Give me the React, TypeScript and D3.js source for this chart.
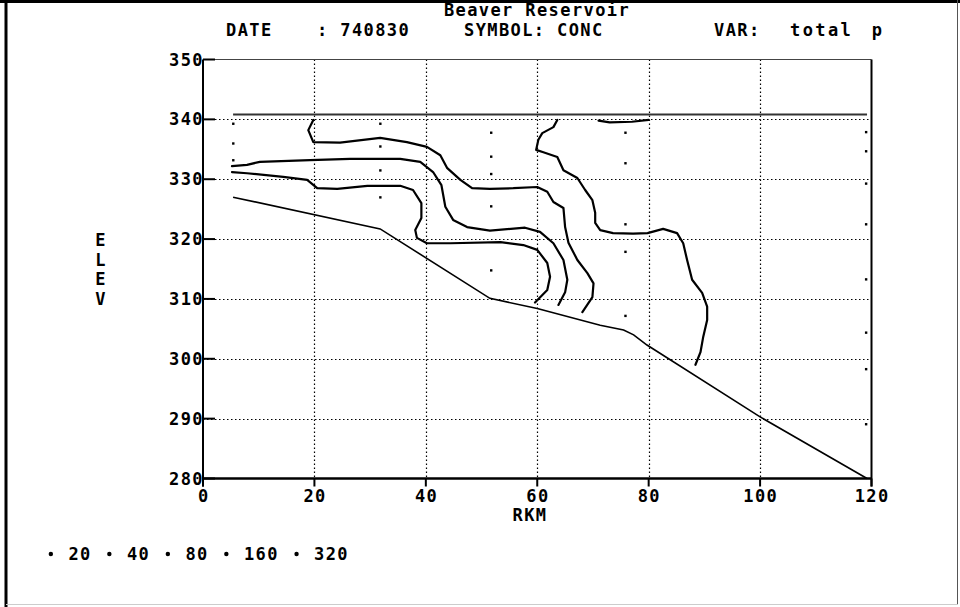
import { useEffect, useRef } from "react";
import * as d3 from "d3";

type Pt = [number, number]; // [rkm, elev]

const xTicks = [0, 20, 40, 60, 80, 100, 120];
const yTicks = [280, 290, 300, 310, 320, 330, 340, 350];
const legendValues = [20, 40, 80, 160, 320];

const waterSurface: Pt[] = [
  [5.4, 340.8],
  [119.2, 340.8],
];

const bedProfile: Pt[] = [
  [5.4, 327.0],
  [31.8, 321.7],
  [51.5, 310.1],
  [60.0, 308.4],
  [71.3, 305.6],
  [75.5, 304.8],
  [77.3, 304.0],
  [79.7, 302.3],
  [100.0, 290.3],
  [119.2, 280.0],
];

// sample station locations (rkm) and their sample elevations
const stationRkm = [5.4, 31.8, 51.7, 75.8, 119.0];
const stationElevs = [
  [339.3, 336.0, 333.2],
  [339.3, 335.5, 331.5, 327.0],
  [337.8, 333.8, 330.9, 325.5, 314.8],
  [337.8, 332.7, 322.5, 317.9, 307.2],
  [337.9, 334.7, 329.3, 322.5, 313.3, 304.4, 298.3, 289.1],
];

const contourA: Pt[] = [
  [19.8, 339.9], [18.9, 338.2], [19.8, 336.2], [24.6, 336.1], [31.8, 336.9],
  [36.6, 336.2], [40.2, 335.4], [42.6, 334.0], [43.8, 331.9], [46.2, 329.9],
  [48.3, 328.5], [51.5, 328.4], [55.7, 328.5], [60.0, 328.7], [61.8, 327.9],
  [62.9, 326.2], [64.7, 325.2], [65.0, 322.0], [65.6, 319.4], [67.2, 316.5],
  [69.0, 314.3], [70.1, 312.6], [69.9, 310.3], [68.1, 307.8],
];

const contourB: Pt[] = [
  [5.2, 332.2], [7.9, 332.4], [10.2, 332.9], [19.2, 333.2], [26.4, 333.4],
  [35.4, 333.4], [39.0, 332.9], [41.3, 331.2], [42.8, 329.0], [43.5, 325.4],
  [44.9, 323.2], [47.4, 322.0], [51.5, 321.4], [57.8, 321.9], [60.5, 321.2],
  [62.9, 319.3], [64.7, 316.5], [65.4, 313.2], [65.0, 311.1], [63.8, 309.0],
];

const contourC: Pt[] = [
  [5.2, 331.2], [7.9, 331.0], [14.4, 330.4], [18.7, 329.9], [20.5, 328.5],
  [24.1, 328.4], [29.5, 328.9], [35.4, 328.9], [37.7, 328.2], [39.2, 326.0],
  [39.2, 323.5], [38.1, 321.5], [38.4, 320.2], [40.2, 319.3], [44.4, 319.3],
  [53.4, 319.5], [57.5, 319.0], [60.0, 318.2], [61.8, 316.0], [62.3, 313.7],
  [61.8, 311.5], [59.6, 309.4],
];

const contourD: Pt[] = [
  [63.6, 339.9], [62.9, 338.7], [60.9, 337.7], [60.2, 336.6], [59.8, 334.9],
  [61.1, 334.5], [63.6, 333.7], [64.7, 331.5], [67.2, 330.2], [68.6, 328.2],
  [69.9, 326.5], [70.4, 324.4], [70.4, 322.7], [71.3, 321.5], [73.6, 321.0],
  [77.2, 320.9], [79.8, 321.0], [82.6, 321.7], [85.1, 321.0], [86.2, 319.3],
  [86.9, 316.5], [87.8, 313.2], [89.6, 311.0], [90.5, 308.7], [90.5, 306.5],
  [89.8, 303.7], [89.3, 301.1], [88.4, 299.0],
];

const contourE: Pt[] = [
  [71.0, 339.8], [73.0, 339.5], [77.0, 339.6], [80.0, 339.9],
];

const contours = [contourA, contourB, contourC, contourD, contourE];

const FONT = "'DejaVu Sans Mono', 'Liberation Mono', monospace";

export default function App() {
  const svgRef = useRef<SVGSVGElement>(null);

  useEffect(() => {
    if (!svgRef.current) return;
    const svg = d3.select(svgRef.current);
    svg.selectAll("*").remove();

    const x = d3.scaleLinear().domain([0, 120]).range([203, 871.5]);
    const y = d3.scaleLinear().domain([280, 350]).range([478.5, 59.5]);

    const textStyle = (sel: d3.Selection<SVGTextElement, unknown, null, undefined>) =>
      sel
        .attr("font-family", FONT)
        .attr("font-weight", "bold")
        .attr("font-size", 17)
        .attr("letter-spacing", 1.4)
        .attr("fill", "#000");

    // outer frame
    svg.append("rect").attr("x", 0).attr("y", 0).attr("width", 960).attr("height", 607).attr("fill", "#fff");
    svg.append("line").attr("x1", 0).attr("x2", 960).attr("y1", 1.5).attr("y2", 1.5)
      .attr("stroke", "#000").attr("stroke-width", 3);
    svg.append("line").attr("x1", 6).attr("x2", 6).attr("y1", 0).attr("y2", 607)
      .attr("stroke", "#000").attr("stroke-width", 3);
    svg.append("line").attr("x1", 957.5).attr("x2", 957.5).attr("y1", 0).attr("y2", 604)
      .attr("stroke", "#555").attr("stroke-width", 1);
    svg.append("line").attr("x1", 6).attr("x2", 958).attr("y1", 604.5).attr("y2", 604.5)
      .attr("stroke", "#ccc").attr("stroke-width", 1);

    // title block
    svg.append("text").call(textStyle).attr("x", 537).attr("y", 16)
      .attr("text-anchor", "middle").text("Beaver Reservoir");
    const header: [string, number][] = [
      ["DATE", 226],
      [": 740830", 317],
      ["SYMBOL: CONC", 464],
      ["VAR:", 714],
      ["total p", 790],
    ];
    header.forEach(([t, px]) => {
      const el = svg.append("text").call(textStyle).attr("x", px).attr("y", 36).text(t);
      if (t === "total p") el.attr("word-spacing", 6).attr("letter-spacing", 2.4);
    });

    // grid
    yTicks.filter((v) => v > 280 && v < 350).forEach((v) => {
      svg.append("line")
        .attr("x1", x(0)).attr("x2", x(120))
        .attr("y1", Math.round(y(v)) + 0.5).attr("y2", Math.round(y(v)) + 0.5)
        .attr("stroke", "#000").attr("stroke-width", 1.2)
        .attr("stroke-dasharray", "1.5 2.5");
    });
    xTicks.filter((v) => v > 0 && v < 120).forEach((v) => {
      svg.append("line")
        .attr("x1", Math.round(x(v)) + 0.5).attr("x2", Math.round(x(v)) + 0.5)
        .attr("y1", y(350)).attr("y2", y(280))
        .attr("stroke", "#000").attr("stroke-width", 1.2)
        .attr("stroke-dasharray", "1.5 2.5");
    });

    // plot frame
    svg.append("line").attr("x1", x(0)).attr("x2", x(120)).attr("y1", y(350)).attr("y2", y(350))
      .attr("stroke", "#444").attr("stroke-width", 1);
    svg.append("line").attr("x1", x(0)).attr("x2", x(0)).attr("y1", y(350)).attr("y2", y(280) + 8)
      .attr("stroke", "#000").attr("stroke-width", 2);
    svg.append("line").attr("x1", x(120)).attr("x2", x(120)).attr("y1", y(350)).attr("y2", y(280) + 8)
      .attr("stroke", "#000").attr("stroke-width", 2);
    svg.append("line").attr("x1", x(0)).attr("x2", x(120)).attr("y1", y(280)).attr("y2", y(280))
      .attr("stroke", "#000").attr("stroke-width", 2.5);

    // y ticks + labels
    yTicks.forEach((v) => {
      svg.append("line").attr("x1", x(0)).attr("x2", x(0) + 12)
        .attr("y1", y(v)).attr("y2", y(v)).attr("stroke", "#000").attr("stroke-width", 2);
      svg.append("text").call(textStyle).attr("x", x(0) + 1).attr("y", y(v))
        .attr("dy", "0.36em").attr("text-anchor", "end").text(v.toString());
    });

    // x ticks + labels
    xTicks.forEach((v) => {
      svg.append("line").attr("x1", x(v)).attr("x2", x(v))
        .attr("y1", y(280)).attr("y2", y(280) + 8).attr("stroke", "#000").attr("stroke-width", 2);
      svg.append("text").call(textStyle).attr("x", x(v) + 0.7).attr("y", 502)
        .attr("text-anchor", "middle").text(v.toString());
    });

    svg.append("text").call(textStyle).attr("x", 530).attr("y", 521)
      .attr("text-anchor", "middle").text("RKM");

    ["E", "L", "E", "V"].forEach((ch, i) => {
      svg.append("text").call(textStyle).attr("x", 101).attr("y", 246 + i * 19.7)
        .attr("text-anchor", "middle").text(ch);
    });

    const line = d3.line<Pt>().x((d) => x(d[0])).y((d) => y(d[1]));

    // water surface
    svg.append("path").datum(waterSurface).attr("d", line)
      .attr("fill", "none").attr("stroke", "#333").attr("stroke-width", 2);

    // bed profile
    svg.append("path").datum(bedProfile).attr("d", line)
      .attr("fill", "none").attr("stroke", "#000").attr("stroke-width", 1.6);

    // contours
    contours.forEach((c) => {
      svg.append("path").datum(c).attr("d", line)
        .attr("fill", "none").attr("stroke", "#000").attr("stroke-width", 2.2)
        .attr("stroke-linejoin", "round").attr("stroke-linecap", "round");
    });

    // station sample points
    stationRkm.forEach((r, i) => {
      stationElevs[i].forEach((e) => {
        svg.append("rect").attr("x", x(r) - 1).attr("y", y(e) - 1)
          .attr("width", 2.4).attr("height", 2.4).attr("fill", "#000");
      });
    });

    // legend
    const cw = 11.7;
    let cursor = 45;
    legendValues.forEach((v) => {
      svg.append("circle").attr("cx", cursor + cw / 2).attr("cy", 554).attr("r", 2.2).attr("fill", "#000");
      svg.append("text").call(textStyle).attr("x", cursor + 2 * cw).attr("y", 560).text(v.toString());
      cursor += (v.toString().length + 3) * cw;
    });
  }, []);

  return (
    <svg
      ref={svgRef}
      width={960}
      height={607}
      viewBox="0 0 960 607"
      style={{ position: "absolute", left: 0, top: 0, display: "block" }}
    />
  );
}
